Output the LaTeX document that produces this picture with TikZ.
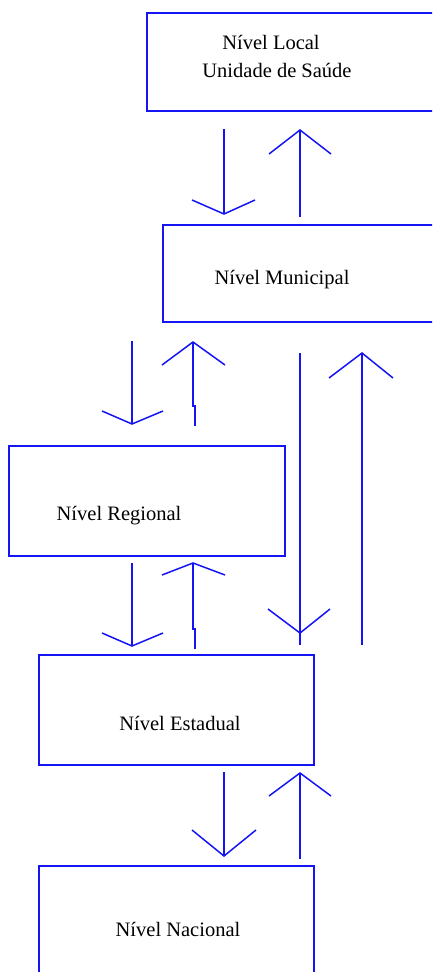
\documentclass[tikz,border=0pt]{standalone}
\usepackage{fontspec}
\setmainfont{Liberation Serif}
\usetikzlibrary{calc}
\definecolor{flowblue}{RGB}{20,20,245}
\tikzset{
  level/.style={draw=flowblue, line width=1.7pt, rectangle, inner sep=0pt},
  caption/.style={font=\fontsize{20.5}{24}\selectfont, text=black, inner sep=0pt, anchor=center},
  flow/.style={draw=flowblue, line width=1.5pt, line join=miter},
}
\begin{document}
\begin{tikzpicture}[x=1pt, y=-1pt]
\useasboundingbox (0,0) rectangle (432,972);
\clip (0,0) rectangle (432,972);

% level boxes
\node[level, minimum width=313pt, minimum height=98pt]  (local) at (303.5,62)  {};
\node[level, minimum width=297pt, minimum height=97pt]  (mun)   at (311.5,273.5) {};
\node[level, minimum width=276pt, minimum height=110pt] (reg)   at (147,501)   {};
\node[level, minimum width=275pt, minimum height=110pt] (est)   at (176.5,710) {};
\node[level, minimum width=275pt, minimum height=134pt] (nac)   at (176.5,933) {};

% captions
\node[caption] (tlocal) at (271,42)  {Nível Local};
\node[caption] (tuni)   at (277,70)  {Unidade de Saúde};
\node[caption] (tmun)   at (282,280) {Nível Municipal};
\node[caption] (treg)   at (119,516) {Nível Regional};
\node[caption] (test)   at (180,723) {Nível Estadual};
\node[caption] (tnac)   at (178,929) {Nível Nacional};

% arrow end points
\coordinate (d1s) at (224,129); \coordinate (d1e) at (224,214);
\coordinate (u1s) at (300,217); \coordinate (u1e) at (300,130);
\coordinate (d2s) at (132,341); \coordinate (d2e) at (132,424);
\coordinate (u2s) at (195,426); \coordinate (u2k) at (193,405); \coordinate (u2e) at (193,342);
\coordinate (d3s) at (132,563); \coordinate (d3e) at (132,646);
\coordinate (u3s) at (195,649); \coordinate (u3k) at (193,628); \coordinate (u3e) at (193,563);
\coordinate (d4s) at (300,353); \coordinate (d4e) at (300,633); \coordinate (d4t) at (300,645);
\coordinate (u4s) at (362,645); \coordinate (u4e) at (362,353);
\coordinate (d5s) at (224,772); \coordinate (d5e) at (224,856);
\coordinate (u5s) at (300,859); \coordinate (u5e) at (300,773);

% Local <-> Municipal
\draw[flow] (d1s) -- (d1e);
\draw[flow] ($(d1e)+(-32,-14)$) -- (d1e) -- ++(31,-14);
\draw[flow] (u1s) -- (u1e);
\draw[flow] ($(u1e)+(-31,24)$) -- (u1e) -- ++(31,24);

% Municipal <-> Regional
\draw[flow] (d2s) -- (d2e);
\draw[flow] ($(d2e)+(-30,-13)$) -- (d2e) -- ++(31,-13);
\draw[flow] (u2s) -- ($(u2s)+(0,-20)$) -- ($(u2k)+(0,1)$) -- (u2e);
\draw[flow] ($(u2e)+(-31,23)$) -- (u2e) -- ++(32,23);

% Regional <-> Estadual
\draw[flow] (d3s) -- (d3e);
\draw[flow] ($(d3e)+(-30,-13)$) -- (d3e) -- ++(31,-13);
\draw[flow] (u3s) -- ($(u3s)+(0,-20)$) -- ($(u3k)+(0,1)$) -- (u3e);
\draw[flow] ($(u3e)+(-31,12)$) -- (u3e) -- ++(32,12);

% Municipal <-> Estadual
\draw[flow] (d4s) -- (d4t);
\draw[flow] ($(d4e)+(-32,-24)$) -- (d4e) -- ++(30,-24);
\draw[flow] (u4s) -- (u4e);
\draw[flow] ($(u4e)+(-33,25)$) -- (u4e) -- ++(31,25);

% Estadual <-> Nacional
\draw[flow] (d5s) -- (d5e);
\draw[flow] ($(d5e)+(-32,-26)$) -- (d5e) -- ++(32,-26);
\draw[flow] (u5s) -- (u5e);
\draw[flow] ($(u5e)+(-31,23)$) -- (u5e) -- ++(31,23);
\end{tikzpicture}
\end{document}
